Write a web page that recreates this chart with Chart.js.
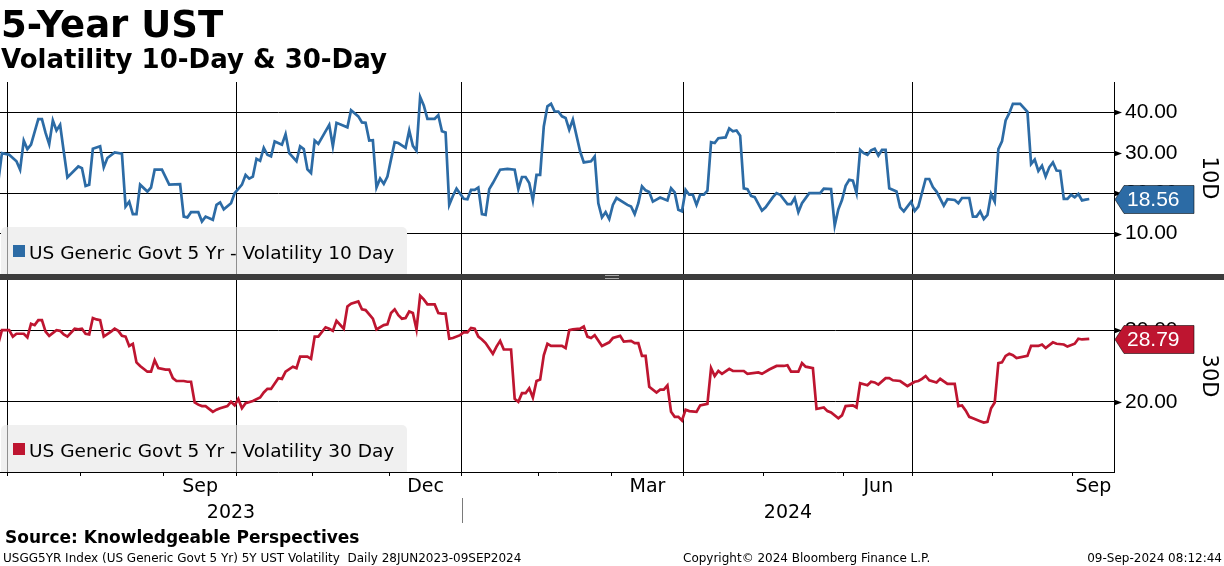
<!DOCTYPE html>
<html>
<head>
<meta charset="utf-8">
<script src="https://cdn.jsdelivr.net/npm/chart.js@4.4.1/dist/chart.umd.min.js"></script>
<style>
  html, body { margin: 0; padding: 0; background: #fff; }
  #wrap { position: relative; width: 1224px; height: 566px; overflow: hidden; }
  #top { position: absolute; left: 0; top: 0; }
  #bot { position: absolute; left: 0; top: 280px; }
  #sep { position: absolute; left: 0; top: 274px; width: 1224px; height: 6px; background: #3c3c3c; }
  #grip { position: absolute; left: 605px; top: 1px; width: 14px; height: 4px; box-sizing: border-box;
          border-top: 1px solid #a8a8a8; border-bottom: 1px solid #a8a8a8; }
</style>
</head>
<body>
<div id="wrap">
  <canvas id="top" width="1224" height="274"></canvas>
  <div id="sep"><div id="grip"></div></div>
  <canvas id="bot" width="1224" height="286"></canvas>
</div>
<script>
// bond market holidays (no fixing that day)
const holidays = ['2023-07-04','2023-09-04','2023-10-09','2023-11-23','2023-12-25','2024-01-01',
  '2024-01-15','2024-02-19','2024-03-29','2024-05-27','2024-06-19','2024-07-04','2024-09-02'];

// 10-day volatility
const dates10 = [
  '2023-06-28','2023-06-29','2023-07-03','2023-07-06','2023-07-07','2023-07-10','2023-07-11','2023-07-12','2023-07-14','2023-07-17',
  '2023-07-18','2023-07-19','2023-07-20','2023-07-21','2023-07-24','2023-07-25','2023-07-26','2023-07-31',
  '2023-08-01','2023-08-02','2023-08-03','2023-08-04','2023-08-08','2023-08-09','2023-08-10','2023-08-14','2023-08-16','2023-08-17',
  '2023-08-18','2023-08-21','2023-08-22','2023-08-23','2023-08-25','2023-08-28','2023-08-29','2023-08-31',
  '2023-09-05','2023-09-08','2023-09-11','2023-09-12','2023-09-13','2023-09-15','2023-09-18','2023-09-19','2023-09-21','2023-09-22',
  '2023-09-25','2023-09-26','2023-09-28','2023-09-29',
  '2023-10-03','2023-10-04','2023-10-05','2023-10-06','2023-10-10','2023-10-11','2023-10-12','2023-10-13','2023-10-16','2023-10-17',
  '2023-10-19','2023-10-20','2023-10-23','2023-10-25','2023-10-26','2023-10-27','2023-10-30','2023-10-31',
  '2023-11-01','2023-11-02','2023-11-07','2023-11-08','2023-11-09','2023-11-14','2023-11-15','2023-11-17','2023-11-20','2023-11-21',
  '2023-11-22','2023-11-24','2023-11-27','2023-11-28','2023-11-29','2023-11-30',
  '2023-12-04','2023-12-05','2023-12-07','2023-12-08','2023-12-11','2023-12-12','2023-12-13','2023-12-14','2023-12-15','2023-12-19',
  '2023-12-20','2023-12-21','2023-12-22','2023-12-26','2023-12-27','2023-12-28',
  '2024-01-02','2024-01-03','2024-01-04','2024-01-05','2024-01-08','2024-01-09','2024-01-10','2024-01-11','2024-01-12','2024-01-17',
  '2024-01-19','2024-01-23','2024-01-24','2024-01-25','2024-01-26','2024-01-29','2024-01-30','2024-01-31',
  '2024-02-01','2024-02-02','2024-02-05','2024-02-06','2024-02-07','2024-02-08','2024-02-09','2024-02-12','2024-02-13','2024-02-14',
  '2024-02-16','2024-02-20','2024-02-22','2024-02-23','2024-02-26','2024-02-27','2024-02-28','2024-02-29',
  '2024-03-01','2024-03-04','2024-03-07','2024-03-08','2024-03-11','2024-03-12','2024-03-13','2024-03-14','2024-03-15','2024-03-18',
  '2024-03-20','2024-03-22','2024-03-25','2024-03-26','2024-03-27','2024-03-28',
  '2024-04-01','2024-04-02','2024-04-03','2024-04-04','2024-04-05','2024-04-08','2024-04-09','2024-04-10','2024-04-11','2024-04-12',
  '2024-04-16','2024-04-17','2024-04-18','2024-04-19','2024-04-22','2024-04-23','2024-04-24','2024-04-25','2024-04-26','2024-04-30',
  '2024-05-01','2024-05-03','2024-05-06','2024-05-07','2024-05-09','2024-05-10','2024-05-13','2024-05-14','2024-05-15','2024-05-17',
  '2024-05-22','2024-05-23','2024-05-28','2024-05-29','2024-05-30','2024-05-31',
  '2024-06-03','2024-06-04','2024-06-05','2024-06-06','2024-06-07','2024-06-10','2024-06-11','2024-06-12','2024-06-13','2024-06-14',
  '2024-06-17','2024-06-18','2024-06-20','2024-06-24','2024-06-25','2024-06-26','2024-06-28',
  '2024-07-01','2024-07-02','2024-07-05','2024-07-08','2024-07-09','2024-07-10','2024-07-12','2024-07-15','2024-07-17','2024-07-18',
  '2024-07-19','2024-07-23','2024-07-24','2024-07-25','2024-07-26','2024-07-29','2024-07-30','2024-07-31',
  '2024-08-01','2024-08-02','2024-08-05','2024-08-06','2024-08-07','2024-08-08','2024-08-12','2024-08-14','2024-08-15','2024-08-16',
  '2024-08-19','2024-08-20','2024-08-21','2024-08-22','2024-08-23','2024-08-26','2024-08-27','2024-08-28','2024-08-29','2024-08-30',
  '2024-09-03','2024-09-04','2024-09-05','2024-09-06','2024-09-09'
];
const vol10 = [
  22.9,29.9,29.5,27.9,25.8,33.0,30.9,32.0,38.3,38.3,
  34.9,32.1,38.0,35.5,36.9,30.3,23.9,26.6,
  26.2,21.8,22.1,31.0,31.6,26.4,28.7,30.1,29.8,16.7,
  17.9,14.8,14.8,22.1,20.4,21.4,25.8,25.8,
  22.1,22.2,14.2,14.0,15.3,15.3,13.0,14.2,13.4,17.1,
  17.7,16.0,17.5,20.0,
  22.1,24.5,23.6,24.1,28.5,28.0,31.2,29.5,29.1,32.8,
  32.0,34.6,29.9,27.9,31.6,30.9,25.9,25.0,
  33.0,32.2,36.9,31.6,37.4,36.3,40.5,39.0,37.5,37.4,
  33.0,33.1,21.4,23.6,22.3,24.1,
  32.6,32.4,31.2,35.5,31.7,30.5,43.8,41.7,38.4,38.4,
  39.3,35.3,35.0,17.1,19.3,21.1,
  18.6,18.5,20.8,20.8,21.4,14.8,14.6,21.0,22.5,25.8,
  26.0,25.8,21.0,24.0,24.0,22.5,18.2,24.5,
  24.5,36.5,41.5,42.1,40.2,40.2,39.0,38.6,35.7,38.2,
  30.3,27.6,27.9,29.1,17.5,14.0,15.3,13.6,
  17.1,18.8,17.1,16.7,14.8,17.5,21.7,20.7,20.3,17.9,
  18.9,18.2,21.2,20.2,15.9,15.5,
  20.8,19.6,19.6,17.1,19.6,19.6,20.6,32.6,32.4,33.6,
  33.8,36.0,35.3,35.5,34.2,21.2,21.0,19.3,19.0,15.7,
  16.5,19.0,20.0,19.6,17.3,17.3,18.8,15.3,17.5,20.0,
  20.0,21.1,21.0,12.0,16.0,18.3,
  21.8,23.3,23.1,20.0,30.7,29.9,29.5,30.6,31.0,29.3,
  30.7,30.7,21.2,20.4,16.5,15.5,17.9,
  15.6,16.7,23.5,23.5,21.5,20.4,16.9,18.5,18.3,17.5,
  18.8,18.8,14.2,14.2,15.5,13.6,14.6,19.8,
  17.9,30.9,32.8,38.0,39.8,42.1,42.1,40.1,27.2,28.3,
  25.5,26.8,24.1,26.4,27.6,25.6,25.5,18.6,18.6,19.6,
  19.0,19.8,18.2,18.4,18.56
];

// 30-day volatility
const dates30 = [
  '2023-06-28','2023-06-29','2023-07-03','2023-07-05','2023-07-06','2023-07-10','2023-07-11','2023-07-12','2023-07-13','2023-07-14',
  '2023-07-17','2023-07-18','2023-07-19','2023-07-21','2023-07-24','2023-07-25','2023-07-26','2023-07-28','2023-07-31',
  '2023-08-01','2023-08-02','2023-08-03','2023-08-04','2023-08-07','2023-08-08','2023-08-09','2023-08-11','2023-08-14','2023-08-15',
  '2023-08-16','2023-08-17','2023-08-18','2023-08-21','2023-08-22','2023-08-23','2023-08-25','2023-08-28','2023-08-29','2023-08-30',
  '2023-09-01','2023-09-05','2023-09-06','2023-09-07','2023-09-11','2023-09-12','2023-09-13','2023-09-14','2023-09-15','2023-09-18',
  '2023-09-19','2023-09-21','2023-09-22','2023-09-25','2023-09-27','2023-09-28','2023-09-29',
  '2023-10-02','2023-10-03','2023-10-04','2023-10-06','2023-10-11','2023-10-12','2023-10-13','2023-10-16','2023-10-18','2023-10-19',
  '2023-10-20','2023-10-24','2023-10-25','2023-10-26','2023-10-30','2023-10-31',
  '2023-11-01','2023-11-02','2023-11-06','2023-11-07','2023-11-08','2023-11-09','2023-11-13','2023-11-14','2023-11-15','2023-11-17',
  '2023-11-20','2023-11-21','2023-11-24','2023-11-27','2023-11-29','2023-11-30',
  '2023-12-01','2023-12-04','2023-12-05','2023-12-06','2023-12-07','2023-12-08','2023-12-11','2023-12-12','2023-12-13','2023-12-14',
  '2023-12-15','2023-12-19','2023-12-20','2023-12-21','2023-12-22','2023-12-26','2023-12-27','2023-12-29',
  '2024-01-02','2024-01-03','2024-01-04','2024-01-05','2024-01-08','2024-01-09','2024-01-10','2024-01-12','2024-01-16','2024-01-17',
  '2024-01-18','2024-01-22','2024-01-23','2024-01-24','2024-01-25','2024-01-26','2024-01-29','2024-01-30','2024-01-31',
  '2024-02-01','2024-02-02','2024-02-05','2024-02-06','2024-02-09','2024-02-12','2024-02-13','2024-02-14','2024-02-16','2024-02-20',
  '2024-02-21','2024-02-22','2024-02-23','2024-02-27','2024-02-29',
  '2024-03-01','2024-03-05','2024-03-06','2024-03-08','2024-03-11','2024-03-12','2024-03-13','2024-03-14','2024-03-15','2024-03-19',
  '2024-03-20','2024-03-21','2024-03-22','2024-03-25','2024-03-26','2024-03-27','2024-03-28',
  '2024-04-01','2024-04-02','2024-04-04','2024-04-05','2024-04-09','2024-04-10','2024-04-11','2024-04-12','2024-04-15','2024-04-17',
  '2024-04-18','2024-04-23','2024-04-24','2024-04-29','2024-04-30',
  '2024-05-02','2024-05-06','2024-05-08','2024-05-09','2024-05-10','2024-05-14','2024-05-15','2024-05-16','2024-05-20','2024-05-21',
  '2024-05-23','2024-05-24','2024-05-28','2024-05-30','2024-05-31',
  '2024-06-03','2024-06-05','2024-06-06','2024-06-07','2024-06-11','2024-06-12','2024-06-13','2024-06-14','2024-06-18','2024-06-20',
  '2024-06-21','2024-06-25','2024-06-27',
  '2024-07-01','2024-07-02','2024-07-03','2024-07-05','2024-07-08','2024-07-10','2024-07-11','2024-07-15','2024-07-16','2024-07-17',
  '2024-07-18','2024-07-19','2024-07-22','2024-07-23','2024-07-24','2024-07-26','2024-07-29','2024-07-30','2024-07-31',
  '2024-08-01','2024-08-02','2024-08-05','2024-08-06','2024-08-07','2024-08-08','2024-08-09','2024-08-14','2024-08-15','2024-08-19',
  '2024-08-20','2024-08-21','2024-08-23','2024-08-26','2024-08-28','2024-08-29',
  '2024-09-03','2024-09-04','2024-09-05','2024-09-09'
];
const vol30 = [
  28.1,30.0,30.0,29.1,29.5,29.5,29.0,30.9,30.7,31.4,
  31.4,29.8,29.2,30.0,29.9,29.4,29.1,30.2,30.1,
  30.2,29.5,29.4,31.7,31.5,31.4,29.1,29.8,30.2,29.9,
  29.2,29.1,27.8,28.1,25.5,25.0,24.2,24.2,25.8,24.7,
  24.5,24.5,23.3,22.9,22.9,22.8,22.8,19.9,19.6,19.4,
  19.4,18.6,18.9,19.1,19.4,20.0,19.5,
  20.4,19.1,19.8,20.1,20.6,21.3,21.8,21.8,23.3,23.2,
  24.2,24.9,24.7,26.3,26.3,26.0,
  29.1,29.1,30.4,30.2,29.9,31.3,30.2,33.3,33.7,34.0,
  32.9,32.8,31.6,30.1,30.7,30.8,
  32.4,32.9,32.1,31.6,31.7,32.6,32.4,30.1,34.8,34.3,
  33.6,33.6,32.4,32.3,32.3,28.8,28.9,29.3,
  29.7,29.7,30.3,30.2,29.1,28.7,28.2,26.7,27.7,28.5,
  27.3,27.3,20.4,20.0,21.2,21.2,21.9,20.6,22.9,
  23.1,26.5,28.1,27.8,27.8,27.5,30.0,30.1,30.2,30.5,
  29.1,28.9,29.3,27.8,28.3,
  28.9,29.2,28.4,28.5,28.2,28.2,26.4,26.4,22.1,21.3,
  21.7,21.7,22.3,18.6,17.9,17.9,17.4,
  18.9,18.7,18.6,19.5,19.7,24.7,23.6,24.3,23.9,24.6,
  24.3,24.3,23.9,24.1,23.9,
  24.5,25.0,25.0,25.1,24.2,24.2,25.4,24.9,24.7,19.0,
  19.2,18.7,18.5,17.7,18.1,
  19.4,19.5,19.2,22.6,22.3,22.8,22.7,22.4,23.3,23.3,
  23.0,22.9,22.2,
  22.8,22.9,23.2,23.6,23.0,22.7,23.2,22.5,22.5,22.5,
  19.4,19.5,18.8,17.9,17.7,17.3,17.1,17.2,19.1,
  19.9,25.4,25.5,26.4,26.7,26.5,26.1,26.4,27.8,27.8,
  28.0,27.5,28.3,28.1,28.0,27.7,
  28.1,28.8,28.7,28.79
];

const monthNames = ['Jan','Feb','Mar','Apr','May','Jun','Jul','Aug','Sep','Oct','Nov','Dec'];
const labelMonths = ['2023-09','2023-12','2024-03','2024-06','2024-09'];
const years = ['2023','2024'];

const BLUE = '#2c6ba5';
const RED = '#be1530';
const XMIN = 0.47, XMAX = 306.8;
const NUM_FONT = "'Liberation Sans', Arial, sans-serif";

// trading-day calendar: x positions are session numbers, as on the terminal
const sessions = [];
for (let d = new Date(Date.UTC(2023, 5, 28)); d <= new Date(Date.UTC(2024, 9, 31)); d.setUTCDate(d.getUTCDate() + 1)) {
  const wd = d.getUTCDay();
  const s = d.toISOString().slice(0, 10);
  if (wd > 0 && wd < 6 && !holidays.includes(s)) sessions.push(s);
}
const sessionOnOrAfter = s => {
  const i = sessions.findIndex(x => x >= s);
  return i < 0 ? Infinity : i;
};
const toPoints = (dates, vals) => dates.map((d, i) => ({ x: sessions.indexOf(d), y: vals[i] }));

// month boundaries (ticks) and quarter boundaries (grid lines)
const bounds = [];
for (let d = new Date(Date.UTC(2023, 6, 1)); d <= new Date(Date.UTC(2024, 9, 1)); d.setUTCMonth(d.getUTCMonth() + 1)) {
  const key = d.toISOString().slice(0, 7);
  bounds.push({ key, month: d.getUTCMonth(), v: sessionOnOrAfter(key + '-01') - 0.5 });
}
const tickKind = new Map();
bounds.forEach(b => { if (b.v > XMIN && b.v < XMAX) tickKind.set(b.v, b.month % 3 === 0 ? 'q' : 'm'); });
const tickText = new Map();
labelMonths.forEach(k => {
  const i = bounds.findIndex(b => b.key === k);
  const mid = (bounds[i].v + Math.min(bounds[i + 1].v, XMAX)) / 2;
  tickText.set(mid, monthNames[bounds[i].month]);
});
const xTickValues = [...tickKind.keys(), ...tickText.keys()].sort((a, b) => a - b);
const quarterValues = [...tickKind].filter(([, k]) => k === 'q').map(([v]) => v);

Chart.defaults.font.family = "'DejaVu Sans', sans-serif";
Chart.defaults.color = '#000';

function xAxis(showLabels) {
  return {
    type: 'linear', min: XMIN, max: XMAX, bounds: 'data',
    afterBuildTicks: s => { s.ticks = xTickValues.map(v => ({ value: v })); },
    grid: {
      color: c => (c.tick && tickKind.get(c.tick.value) === 'q') ? '#000' : 'rgba(0,0,0,0)',
      tickColor: c => (c.tick && tickKind.has(c.tick.value)) ? '#000' : 'rgba(0,0,0,0)',
      tickLength: 4, drawTicks: showLabels, lineWidth: 1
    },
    border: { display: showLabels, color: '#000', width: 1 },
    ticks: {
      display: showLabels, autoSkip: false, maxRotation: 0, padding: 0,
      font: { size: 19 }, color: '#000',
      callback: v => tickText.get(v) || ''
    },
    afterFit: s => { s.height = showLabels ? 94 : 0; s.paddingLeft = 0; s.paddingRight = 0; }
  };
}

function yAxis(min, max) {
  return {
    type: 'linear', position: 'right', min, max, bounds: 'data',
    afterBuildTicks: s => {
      const t = [];
      for (let v = Math.ceil(min / 5) * 5; v <= max; v += 5) t.push({ value: v });
      s.ticks = t;
    },
    grid: { color: c => (c.tick && c.tick.value % 10 === 0) ? '#000' : 'rgba(0,0,0,0)', drawTicks: false, lineWidth: 1 },
    border: { display: true, color: '#000', width: 1 },
    ticks: {
      padding: 11, font: { size: 21, family: NUM_FONT }, color: '#000',
      callback: v => (v % 10 === 0 && v > min) ? v.toFixed(2) : null
    },
    afterFit: s => { s.width = 110; s.paddingTop = 0; s.paddingBottom = 0; }
  };
}

// legend box, right-axis marks, last-value tag, side title
const decor = {
  id: 'decor',
  afterDatasetsDraw(chart, args, o) {
    const { ctx, chartArea: a, scales: { x, y } } = chart;
    ctx.save();

    const bTop = a.bottom - 47;
    ctx.fillStyle = '#f0f0f0';
    ctx.beginPath();
    ctx.roundRect(a.left + 1, bTop, 406, 47, [5, 5, 0, 0]);
    ctx.fill();
    ctx.strokeStyle = '#8f8f8f';
    ctx.lineWidth = 1;
    quarterValues.forEach(v => {
      const px = Math.round(x.getPixelForValue(v)) + 0.5;
      if (px < a.left + 407) { ctx.beginPath(); ctx.moveTo(px, bTop); ctx.lineTo(px, a.bottom); ctx.stroke(); }
    });
    ctx.fillStyle = o.color;
    ctx.fillRect(a.left + 13, bTop + 18, 12, 12);
    ctx.fillStyle = '#000';
    ctx.font = "18.5px 'DejaVu Sans'";
    ctx.textBaseline = 'alphabetic';
    ctx.fillText(o.label, a.left + 29, bTop + 31.5);

    ctx.fillStyle = '#000';
    ctx.strokeStyle = '#000';
    y.ticks.forEach(t => {
      const py = Math.round(y.getPixelForValue(t.value)) + 0.5;
      if (t.value % 10 === 0) {
        ctx.beginPath();
        ctx.moveTo(a.right, py - 3); ctx.lineTo(a.right + 8, py); ctx.lineTo(a.right, py + 3);
        ctx.closePath(); ctx.fill();
      } else {
        ctx.beginPath(); ctx.moveTo(a.right, py); ctx.lineTo(a.right + 5, py); ctx.stroke();
      }
    });

    const data = chart.data.datasets[0].data;
    const last = data[data.length - 1].y;
    const ty = Math.round(y.getPixelForValue(last)) + 0.5;
    const tx = a.right + 1;
    ctx.beginPath();
    ctx.moveTo(tx, ty);
    ctx.lineTo(tx + 9, ty - 14);
    ctx.lineTo(tx + 79, ty - 14);
    ctx.lineTo(tx + 79, ty + 14);
    ctx.lineTo(tx + 9, ty + 14);
    ctx.closePath();
    ctx.fillStyle = o.color;
    ctx.fill();
    ctx.strokeStyle = 'rgba(0,0,0,0.55)';
    ctx.stroke();
    ctx.fillStyle = '#fff';
    ctx.font = '21px ' + NUM_FONT;
    ctx.textBaseline = 'middle';
    ctx.fillText(last.toFixed(2), tx + 12, ty + 1);

    ctx.translate(1208, (a.top + a.bottom) / 2);
    ctx.rotate(Math.PI / 2);
    ctx.fillStyle = '#000';
    ctx.font = "21px 'DejaVu Sans'";
    ctx.textAlign = 'center';
    ctx.fillText(o.side, 0, 0);
    ctx.restore();
  }
};

const heading = {
  id: 'heading',
  afterDraw(chart) {
    const ctx = chart.ctx;
    ctx.save();
    ctx.fillStyle = '#000';
    ctx.textBaseline = 'alphabetic';
    ctx.font = "bold 37px 'DejaVu Sans'";
    ctx.fillText('5-Year UST', 1, 37);
    ctx.font = "bold 26px 'DejaVu Sans'";
    ctx.fillText('Volatility 10-Day & 30-Day', 1, 68);
    ctx.restore();
  }
};

const footer = {
  id: 'footer',
  afterDraw(chart) {
    const { ctx, scales: { x } } = chart;
    const top = chart.chartArea.bottom;
    ctx.save();
    ctx.fillStyle = '#000';
    ctx.textBaseline = 'alphabetic';
    ctx.font = "19px 'DejaVu Sans'";
    ctx.textAlign = 'center';
    years.forEach(yr => {
      const start = Math.max(XMIN, sessionOnOrAfter(yr + '-01-01') - 0.5);
      const end = Math.min(XMAX, sessionOnOrAfter((+yr + 1) + '-01-01') - 0.5);
      ctx.fillText(yr, (x.getPixelForValue(start) + x.getPixelForValue(end)) / 2, top + 46);
      if (start > XMIN) {
        const px = Math.round(x.getPixelForValue(start)) + 0.5;
        ctx.strokeStyle = '#7a7a7a';
        ctx.beginPath(); ctx.moveTo(px, top + 26); ctx.lineTo(px, top + 51); ctx.stroke();
      }
    });
    ctx.textAlign = 'left';
    ctx.font = "bold 17px 'DejaVu Sans'";
    ctx.fillText('Source: Knowledgeable Perspectives', 5, top + 71);
    ctx.font = "12px 'DejaVu Sans'";
    ctx.fillText('USGG5YR Index (US Generic Govt 5 Yr) 5Y UST Volatility  Daily 28JUN2023-09SEP2024', 3, top + 90);
    ctx.fillText('Copyright\u00a9 2024 Bloomberg Finance L.P.', 683, top + 90);
    ctx.textAlign = 'right';
    ctx.fillText('09-Sep-2024 08:12:44', 1222, top + 90);
    ctx.restore();
  }
};

function lineDataset(points, color) {
  return { data: points, borderColor: color, borderWidth: 2.7, pointRadius: 0, tension: 0, fill: false };
}

new Chart(document.getElementById('top'), {
  type: 'line',
  data: { datasets: [lineDataset(toPoints(dates10, vol10), BLUE)] },
  options: {
    responsive: false, animation: false,
    layout: { padding: { top: 82, left: 0, right: 0, bottom: 0 } },
    scales: { x: xAxis(false), y: yAxis(0, 47.5) },
    plugins: {
      legend: { display: false }, tooltip: { enabled: false },
      decor: { color: BLUE, label: 'US Generic Govt 5 Yr - Volatility 10 Day', side: '10D' }
    }
  },
  plugins: [decor, heading]
});

new Chart(document.getElementById('bot'), {
  type: 'line',
  data: { datasets: [lineDataset(toPoints(dates30, vol30), RED)] },
  options: {
    responsive: false, animation: false,
    layout: { padding: { top: 0, left: 0, right: 0, bottom: 0 } },
    scales: { x: xAxis(true), y: yAxis(10.2, 37) },
    plugins: {
      legend: { display: false }, tooltip: { enabled: false },
      decor: { color: RED, label: 'US Generic Govt 5 Yr - Volatility 30 Day', side: '30D' }
    }
  },
  plugins: [decor, footer]
});
</script>
</body>
</html>
